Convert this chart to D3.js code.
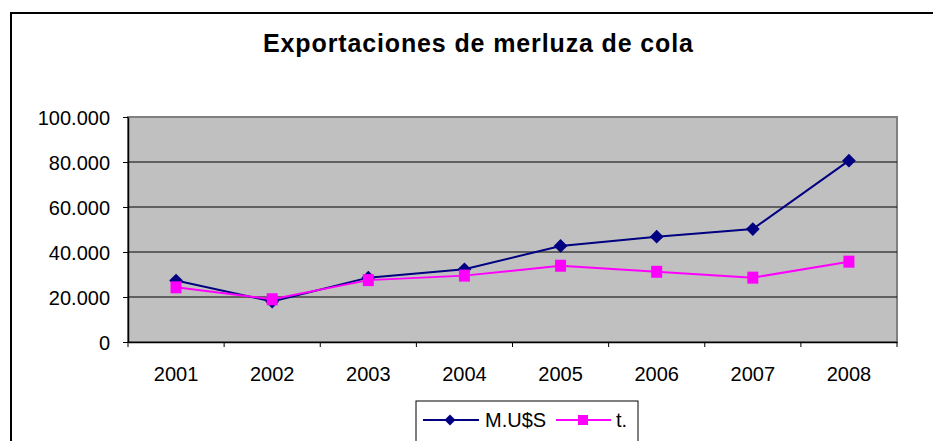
<!DOCTYPE html>
<html><head><meta charset="utf-8">
<script src="https://cdn.jsdelivr.net/npm/d3@7"></script>
<style>body{margin:0;background:#fff}svg{display:block}text{font-family:"Liberation Sans",Arial,sans-serif}</style>
</head><body>
<svg id="c" width="933" height="441"></svg>
<script>
const categories = ["2001","2002","2003","2004","2005","2006","2007","2008"];
const musd = [27300, 18000, 28600, 32300, 42700, 46800, 50200, 80600];
const tons = [24300, 19000, 27500, 29500, 33900, 31200, 28600, 35700];
const yTicks = [0, 20000, 40000, 60000, 80000, 100000];
const yTickLabels = ["0","20.000","40.000","60.000","80.000","100.000"];
const seriesNames = ["M.U$S","t."];
const title = "Exportaciones de merluza de cola";

const svg = d3.select("#c");
svg.append("rect").attr("x",11).attr("y",13).attr("width",940).attr("height",460)
  .attr("fill","#fff").attr("stroke","#000").attr("stroke-width",2);

const L=128, R=897, T=117, B=342;
const x = d3.scaleBand().domain(categories).range([L,R]);
const y = d3.scaleLinear().domain([0,100000]).range([B,T]);

svg.append("text").attr("x",478).attr("y",52).attr("text-anchor","middle")
  .attr("font-size",25).style("font-weight","bold")
  .attr("textLength",430).attr("lengthAdjust","spacing").text(title);

svg.append("rect").attr("x",L).attr("y",T).attr("width",R-L).attr("height",B-T)
  .attr("fill","#C0C0C0").attr("stroke","#808080").attr("stroke-width",2);

svg.append("g").selectAll("line").data(yTicks.filter(d=>d>0 && d<100000)).join("line")
  .attr("x1",L).attr("x2",R).attr("y1",d=>y(d)).attr("y2",d=>y(d))
  .attr("stroke","#000").attr("stroke-width",1);

const yAxis = d3.axisLeft(y).tickValues(yTicks).tickSize(5).tickSizeOuter(0)
  .tickFormat((d,i)=>yTickLabels[i]);
const gy = svg.append("g").attr("transform",`translate(${L},0)`).call(yAxis);
gy.select(".domain").attr("stroke","#000").attr("stroke-width",1.5);
gy.selectAll(".tick line").attr("stroke","#000");
gy.selectAll(".tick text").attr("font-size",20).attr("fill","#000").attr("x",-18).attr("dy","0.35em")
  .style("font-family","'Liberation Sans',Arial,sans-serif");

const xAxis = d3.axisBottom(x).tickSize(0).tickSizeOuter(0);
const gx = svg.append("g").attr("transform",`translate(0,${B})`).call(xAxis);
gx.select(".domain").attr("stroke","#000").attr("stroke-width",1.5);
gx.selectAll(".tick text").attr("font-size",20).attr("fill","#000").attr("y",39).attr("dy",0)
  .style("font-family","'Liberation Sans',Arial,sans-serif");
const bounds = categories.map(c=>x(c)).concat([R]);
gx.append("g").selectAll("line").data(bounds).join("line")
  .attr("x1",d=>d).attr("x2",d=>d).attr("y1",0).attr("y2",5).attr("stroke","#000");

const cx = c => x(c) + x.bandwidth()/2;
const line = d3.line().x((d,i)=>cx(categories[i])).y(d=>y(d));

function drawSeries(vals, color, marker) {
  svg.append("path").datum(vals).attr("d",line).attr("fill","none").attr("stroke",color).attr("stroke-width",2);
  const g = svg.append("g");
  vals.forEach((v,i)=>{
    if (marker==="diamond") {
      g.append("path").attr("d", d3.symbol().type(d3.symbolSquare).size(95)())
        .attr("transform",`translate(${cx(categories[i])},${y(v)}) rotate(45)`).attr("fill",color);
    } else {
      g.append("rect").attr("x",cx(categories[i])-5.5).attr("y",y(v)-6).attr("width",11).attr("height",12).attr("fill",color);
    }
  });
}
drawSeries(musd, "#000080", "diamond");
drawSeries(tons, "#FF00FF", "square");

const lg = svg.append("g");
lg.append("rect").attr("x",416).attr("y",401).attr("width",222).attr("height",60)
  .attr("fill","#fff").attr("stroke","#000").attr("stroke-width",1);
const ly = 420;
lg.append("line").attr("x1",423).attr("x2",479).attr("y1",ly).attr("y2",ly).attr("stroke","#000080").attr("stroke-width",2);
lg.append("path").attr("d", d3.symbol().type(d3.symbolSquare).size(60)())
  .attr("transform",`translate(450,${ly}) rotate(45)`).attr("fill","#000080");
lg.append("text").attr("x",485).attr("y",ly+7).attr("font-size",20).text(seriesNames[0]);
lg.append("line").attr("x1",556).attr("x2",611).attr("y1",ly).attr("y2",ly).attr("stroke","#FF00FF").attr("stroke-width",2);
lg.append("rect").attr("x",578).attr("y",ly-5).attr("width",10).attr("height",10).attr("fill","#FF00FF");
lg.append("text").attr("x",616).attr("y",ly+7).attr("font-size",20).text(seriesNames[1]);
</script>
</body></html>
